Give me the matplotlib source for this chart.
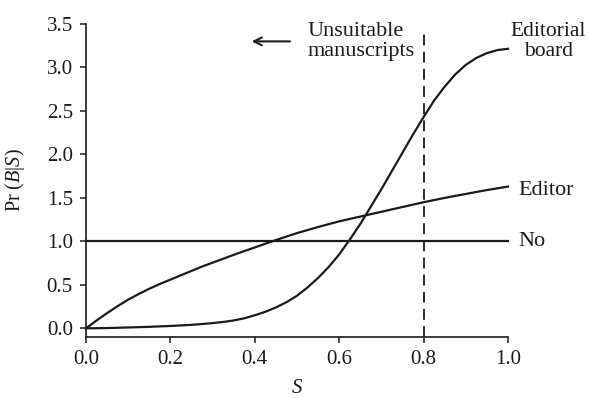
import matplotlib
matplotlib.use('Agg')
import matplotlib.pyplot as plt
import numpy as np

# values
s_vals = [0.0, 0.025, 0.05, 0.075, 0.1, 0.125, 0.15, 0.175, 0.2, 0.225,
          0.25, 0.275, 0.3, 0.325, 0.35, 0.375, 0.4, 0.425, 0.45, 0.475,
          0.5, 0.525, 0.55, 0.575, 0.6, 0.625, 0.65, 0.675, 0.7, 0.725,
          0.75, 0.775, 0.8, 0.825, 0.85, 0.875, 0.9, 0.925, 0.95, 0.975, 1.0]
editor = [0.0, 0.09, 0.175, 0.255, 0.33, 0.395, 0.455, 0.51, 0.56, 0.61,
          0.66, 0.71, 0.755, 0.80, 0.845, 0.888, 0.93, 0.973, 1.015, 1.055,
          1.095, 1.13, 1.165, 1.198, 1.23, 1.258, 1.285, 1.313, 1.34, 1.368,
          1.395, 1.423, 1.45, 1.475, 1.5, 1.523, 1.545, 1.568, 1.59, 1.61, 1.63]
board = [0.0, 0.001, 0.003, 0.006, 0.01, 0.013, 0.017, 0.022, 0.027, 0.033,
         0.04, 0.049, 0.06, 0.073, 0.09, 0.115, 0.15, 0.19, 0.24, 0.30,
         0.375, 0.47, 0.58, 0.705, 0.85, 1.02, 1.20, 1.40, 1.60, 1.81,
         2.02, 2.23, 2.43, 2.62, 2.78, 2.92, 3.03, 3.11, 3.165, 3.20, 3.215]
no_bias = [1.0] * len(s_vals)
cutoff = 0.8

xticks = [0.0, 0.2, 0.4, 0.6, 0.8, 1.0]
yticks = [0.0, 0.5, 1.0, 1.5, 2.0, 2.5, 3.0, 3.5]

plt.rcParams['font.family'] = ['Liberation Serif', 'DejaVu Serif']
plt.rcParams['mathtext.fontset'] = 'custom'
plt.rcParams['mathtext.rm'] = 'Liberation Serif'
plt.rcParams['mathtext.it'] = 'Liberation Serif:italic'

fig = plt.figure(figsize=(5.89, 3.98), dpi=100)
ax = fig.add_axes([86 / 589, 1 - 337 / 398, 422 / 589, 313 / 398])

col = '#1a1a1a'
ax.plot(s_vals, no_bias, color=col, lw=1.6, clip_on=False)
ax.plot(s_vals, editor, color=col, lw=1.6, clip_on=False)
ax.plot(s_vals, board, color=col, lw=1.6, clip_on=False)
ax.plot([cutoff, cutoff], [-0.1, 3.43], color=col, lw=1.3,
        linestyle=(0, (6, 3.5)), clip_on=False)

ax.set_xlim(0, 1.0)
ax.set_ylim(-0.1, 3.5)
ax.set_xticks(xticks)
ax.set_xticklabels([f'{v:.1f}' for v in xticks])
ax.set_yticks(yticks)
ax.set_yticklabels([f'{v:.1f}' for v in yticks])

for side in ['top', 'right']:
    ax.spines[side].set_visible(False)
for side in ['left', 'bottom']:
    ax.spines[side].set_linewidth(1.2)
    ax.spines[side].set_color(col)
ax.tick_params(axis='both', direction='out', length=4.5, width=1.1,
               colors=col, labelsize=15)
ax.tick_params(axis='y', pad=5)
ax.tick_params(axis='x', pad=5)

ax.set_xlabel('$S$', fontsize=15, color=col, labelpad=7)
ax.set_ylabel('Pr ($B$|$S$)', fontsize=14.5, color=col)
ax.yaxis.set_label_coords(-0.14, 0.5)

ax.text(1.095, 3.30, 'Editorial\nboard', fontsize=15.5, color=col,
        ha='center', va='center', linespacing=1.1)
ax.text(1.024, 1.59, 'Editor', fontsize=16, color=col, ha='left', va='center')
ax.text(1.024, 1.0, 'No', fontsize=16, color=col, ha='left', va='center')
ax.text(0.524, 3.30, 'Unsuitable\nmanuscripts', fontsize=16, color=col,
        ha='left', va='center', linespacing=1.05)
ax.annotate('', xy=(0.386, 3.30), xytext=(0.49, 3.30),
            arrowprops=dict(arrowstyle='->', color=col, lw=1.5,
                            mutation_scale=14), annotation_clip=False)

fig.savefig('out.png', dpi=100)
